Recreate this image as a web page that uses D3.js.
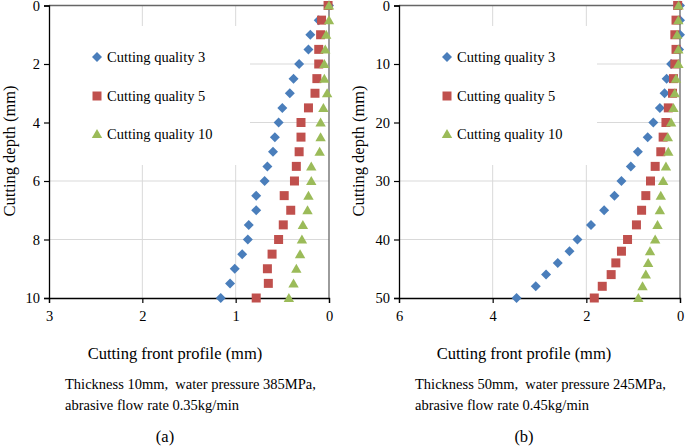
<!DOCTYPE html>
<html><head><meta charset="utf-8">
<script src="https://cdn.jsdelivr.net/npm/d3@7"></script>
<style>body{margin:0;background:#fff}svg{display:block}</style>
</head><body>
<script>
// Panel (a): thickness 10 mm
const depthA = [0,0.5,1,1.5,2,2.5,3,3.5,4,4.5,5,5.5,6,6.5,7,7.5,8,8.5,9,9.5,10];
const a_q3  = [0,0.11,0.20,0.22,0.32,0.38,0.42,0.50,0.54,0.58,0.60,0.66,0.69,0.78,0.78,0.86,0.87,0.93,1.01,1.06,1.16];
const a_q5  = [0.01,0.08,0.09,0.11,0.11,0.13,0.15,0.22,0.30,0.30,0.32,0.35,0.37,0.48,0.41,0.49,0.54,0.61,0.66,0.65,0.78];
const a_q10 = [0,0,0.03,0.04,0.05,0.05,0.02,0.06,0.09,0.09,0.10,0.19,0.19,0.22,0.23,0.28,0.29,0.31,0.35,0.38,0.43];
// Panel (b): thickness 50 mm
const depthB = [0,2.5,5,7.5,10,12.5,15,17.5,20,22.5,25,27.5,30,32.5,35,37.5,40,42,44,46,48,50];
const b_q3  = [0,0,0,0.02,0.19,0.285,0.33,0.43,0.57,0.69,0.90,1.05,1.25,1.40,1.62,1.90,2.19,2.36,2.61,2.86,3.08,3.49];
const b_q5  = [0.05,0.085,0.11,0.085,0.11,0.14,0.16,0.25,0.30,0.36,0.41,0.53,0.63,0.73,0.82,0.93,1.12,1.25,1.37,1.47,1.66,1.83];
const b_q10 = [0.03,0.035,0.06,0.035,0.035,0.085,0.11,0.14,0.19,0.26,0.25,0.30,0.36,0.41,0.43,0.48,0.53,0.64,0.68,0.73,0.80,0.89];

const seriesNames = ["Cutting quality 3","Cutting quality 5","Cutting quality 10"];
const seriesColors = ["#4A7EBB","#C0504D","#9BBB59"];
const ticksXA = [3,2,1,0], ticksYA = [0,2,4,6,8,10];
const ticksXB = [6,4,2,0], ticksYB = [0,10,20,30,40,50];
const xTitle = "Cutting front profile (mm)", yTitle = "Cutting depth (mm)";
const captionA = ["Thickness 10mm,  water pressure 385MPa,","abrasive flow rate 0.35kg/min"];
const captionB = ["Thickness 50mm,  water pressure 245MPa,","abrasive flow rate 0.45kg/min"];

const FONT = "'Liberation Serif', 'Times New Roman', 'DejaVu Serif', serif";
const svg = d3.select("body").append("svg").attr("width",685).attr("height",447)
  .style("font-family",FONT);

function marker(g, kind, color, x, y){
  let p;
  if(kind===0){const r=5; p=`M${x},${y-r}L${x+r},${y}L${x},${y+r}L${x-r},${y}Z`;}
  else if(kind===1){const h=4.5; p=`M${x-h},${y-h}H${x+h}V${y+h}H${x-h}Z`;}
  else {p=`M${x},${y-5}L${x+5.2},${y+4}L${x-5.2},${y+4}Z`;}
  g.append("path").attr("d",p).attr("fill",color);
}

function txt(g){ return g.append("text").style("font-family",FONT).attr("fill","#000"); }

function panel(o){
  const g = svg.append("g");
  const x = d3.scaleLinear().domain([o.xmax,0]).range([o.x0,o.x1]);
  const y = d3.scaleLinear().domain([0,o.ymax]).range([5.5,298]);
  g.selectAll(".gx").data(o.tx.filter(t=>t!==0&&t!==o.xmax)).enter().append("line")
    .attr("x1",d=>x(d)).attr("x2",d=>x(d)).attr("y1",y(0)).attr("y2",298).attr("stroke","#d9d9d9");
  g.selectAll(".gy").data(o.ty.filter(t=>t!==0&&t!==o.ymax)).enter().append("line")
    .attr("x1",o.x0).attr("x2",o.x1).attr("y1",d=>y(d)).attr("y2",d=>y(d)).attr("stroke","#d9d9d9");
  g.append("rect").attr("x",o.x0+1).attr("y",26).attr("width",o.legW).attr("height",139).attr("fill","#fff");
  g.append("line").attr("x1",o.x0).attr("x2",o.x1).attr("y1",y(0)).attr("y2",y(0)).attr("stroke","#666").attr("stroke-width",1.3);
  g.append("line").attr("x1",o.x1).attr("x2",o.x1).attr("y1",y(0)).attr("y2",298).attr("stroke","#666").attr("stroke-width",1.3);
  const ax = g.append("g").attr("transform","translate(0,298)")
    .call(d3.axisBottom(x).tickValues(o.tx).tickSize(5).tickPadding(8).tickFormat(d3.format("d")));
  const ay = g.append("g").attr("transform",`translate(${o.x0},0)`)
    .call(d3.axisLeft(y).tickValues(o.ty).tickSize(5).tickPadding(4).tickFormat(d3.format("d")));
  [ax,ay].forEach(a=>{
    a.attr("font-family",null).attr("font-size",null);
    a.select(".domain").attr("stroke","#000").attr("stroke-width",1.3);
    a.selectAll(".tick line").attr("stroke","#000").attr("stroke-width",1.2);
    a.selectAll("text").style("font-family",FONT).style("font-size","14.5px").attr("fill","#000");});
  const dg = g.append("g");
  o.series.forEach((s,k)=>{
    s.forEach((v,i)=>marker(dg,k,seriesColors[k],x(v),y(o.depth[i])));
  });
  const ly=[57,96,134];
  seriesNames.forEach((n,k)=>{
    marker(g,k,seriesColors[k],o.lx,ly[k]);
    txt(g).attr("x",o.lx+10).attr("y",ly[k]+5).style("font-size","14.5px").text(n);
  });
  txt(g).attr("x",o.tcx).attr("y",359).attr("text-anchor","middle").style("font-size","16.5px").text(xTitle);
  txt(g).attr("transform",`translate(${o.ytx},151) rotate(-90)`).attr("text-anchor","middle").style("font-size","16.5px").text(yTitle);
  o.cap.forEach((c,i)=>txt(g).attr("x",o.capx).attr("y",389+i*21).style("font-size","14.5px").style("white-space","pre").text(c));
  txt(g).attr("x",o.labx).attr("y",442).attr("text-anchor","middle").style("font-size","16.5px").text(o.lab);
}

panel({x0:49,x1:329,xmax:3,ymax:10,tx:ticksXA,ty:ticksYA,depth:depthA,series:[a_q3,a_q5,a_q10],
  legW:200,lx:97,ytx:15,tcx:175,cap:captionA,capx:65,labx:165,lab:"(a)"});
panel({x0:399,x1:680,xmax:6,ymax:50,tx:ticksXB,ty:ticksYB,depth:depthB,series:[b_q3,b_q5,b_q10],
  legW:197,lx:447,ytx:364,tcx:524,cap:captionB,capx:415,labx:524,lab:"(b)"});
</script>
</body></html>
